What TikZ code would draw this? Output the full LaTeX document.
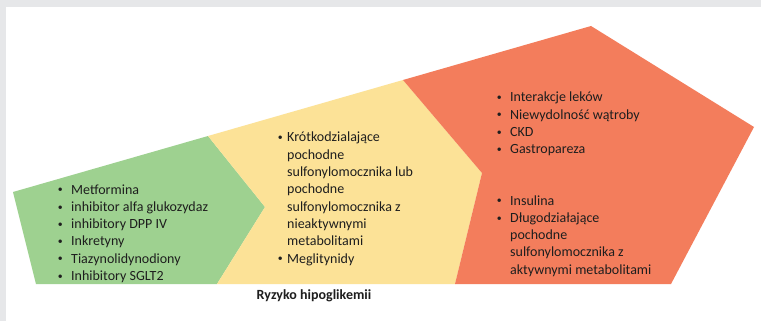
\documentclass[tikz,border=0pt]{standalone}
\usepackage{fontspec}
\usepackage{graphicx}
\setmainfont{Carlito}
\definecolor{gbg}{RGB}{230,231,233}
\definecolor{cgreen}{RGB}{158,209,144}
\definecolor{cyellow}{RGB}{252,226,151}
\definecolor{cred}{RGB}{243,125,92}
\definecolor{ctext}{RGB}{30,30,30}
\newcommand{\bulmark}[1]{\makebox[#1][l]{\hspace{0.6pt}\raisebox{1.3pt}{\scalebox{0.7}{\textbullet}}}}
\newcommand{\listbox}[1]{\parbox[t]{240pt}{\raggedright\fontsize{14}{17.3}\selectfont #1}}
\begin{document}
\begin{tikzpicture}[x=1pt,y=-1pt,
  listtext/.style={anchor=base west, inner sep=0pt, text=ctext},
  zone/.style={draw=none}]
\fill[gbg] (0,0) rectangle (761,321);
\fill[white] (6,7) rectangle (761,321);
\useasboundingbox (0,0) rectangle (761,321);
% corner points
\coordinate (gL) at (13,192);
\coordinate (gBL) at (36,284);
\coordinate (gy) at (208,136);
\coordinate (gTip) at (265,207);
\coordinate (gBR) at (217,284);
\coordinate (yr) at (403,80);
\coordinate (yTip) at (482,173);
\coordinate (yBR) at (455,284);
\coordinate (rTop) at (591,26);
\coordinate (rRight) at (754,127);
\coordinate (rBR) at (671,284);
% zones
\fill[cgreen,zone] (gL) -- (gy) -- (gTip) -- (gBR) -- (gBL) -- cycle;
\fill[cyellow,zone] (gy) -- (yr) -- (yTip) -- (yBR) -- (gBR) -- (gTip) -- cycle;
\fill[cred,zone] (yr) -- (rTop) -- (rRight) -- (rBR) -- (yBR) -- (yTip) -- cycle;
% lists
\node[listtext] (glist) at (57,194) {\listbox{%
\bulmark{14pt}Metformina\\
\bulmark{14pt}inhibitor alfa glukozydaz\\
\bulmark{14pt}inhibitory DPP IV\\
\bulmark{14pt}Inkretyny\\
\bulmark{14pt}Tiazynolidynodiony\\
\bulmark{14pt}Inhibitory SGLT2}};
\node[listtext] (ylist) at (277,142) {\listbox{%
\bulmark{10pt}Krótkodzialające\\
\hspace*{10pt}pochodne\\
\hspace*{10pt}sulfonylomocznika lub\\
\hspace*{10pt}pochodne\\
\hspace*{10pt}sulfonylomocznika z\\
\hspace*{10pt}nieaktywnymi\\
\hspace*{10pt}metabolitami\\
\bulmark{10pt}Meglitynidy}};
\node[listtext] (rlistA) at (496,102) {\listbox{%
\bulmark{14pt}Interakcje leków\\
\bulmark{14pt}Niewydolność wątroby\\
\bulmark{14pt}CKD\\
\bulmark{14pt}Gastropareza}};
\node[listtext] (rlistB) at (496,205) {\listbox{%
\bulmark{14pt}Insulina\\
\bulmark{14pt}Długodziałające\\
\hspace*{14pt}pochodne\\
\hspace*{14pt}sulfonylomocznika z\\
\hspace*{14pt}aktywnymi metabolitami}};
\node[anchor=base, inner sep=0pt, text=ctext, font=\fontsize{14}{17}\selectfont\bfseries] (title) at (314,299) {Ryzyko hipoglikemii};
\end{tikzpicture}
\end{document}
